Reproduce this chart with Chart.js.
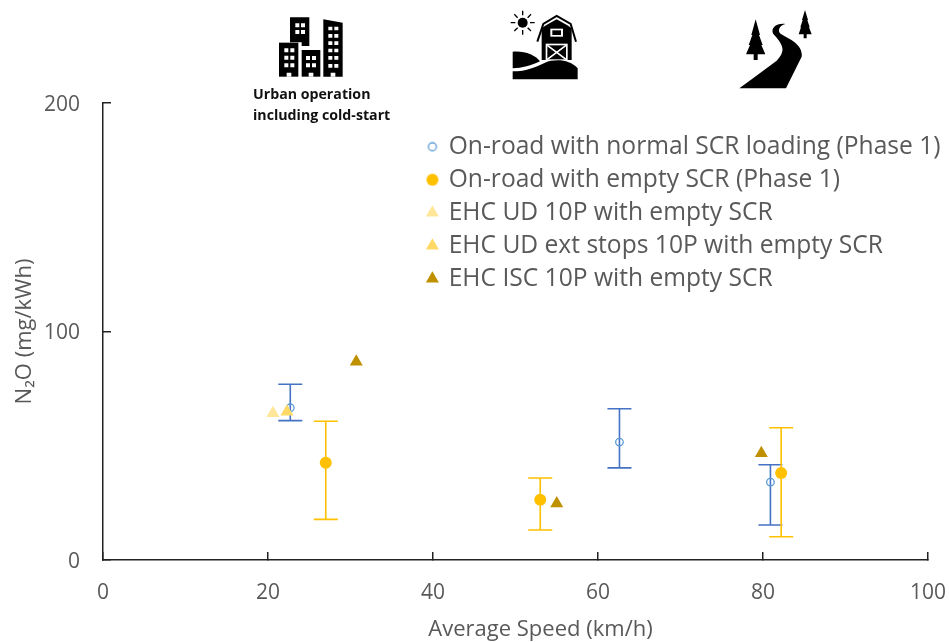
<!DOCTYPE html>
<html>
<head>
<meta charset="utf-8">
<title>N2O vs average speed</title>
<script src="https://cdn.jsdelivr.net/npm/chart.js@4"></script>
<style>
  html, body { margin: 0; padding: 0; background: #fff; }
  #wrap { position: relative; width: 949px; height: 642px; overflow: hidden; }
  #wrap canvas { position: absolute; left: 0; top: 0; }
  .icon { position: absolute; top: 0; height: 130px; }
  #urbanNote {
    position: absolute; left: 253px; top: 83px;
    font: bold 14.2px/21px "Open Sans", sans-serif; color: #111;
  }
</style>
</head>
<body>
<div id="wrap">
  <canvas id="chart" width="949" height="642"></canvas>

  <!-- icons use zoomed pixel coords (3x) in their viewBox -->
  <svg class="icon" style="left:240px;width:360px" viewBox="0 0 1080 390">
    <g fill="#000">
      <path d="M150 52H208V138L185 138V127H150Z"/>
      <rect x="117" y="128" width="58" height="102"/>
      <rect x="185" y="150" width="56" height="80"/>
      <path d="M250 58L308 68V230H250Z"/>
    </g>
    <g fill="#fff">
      <path d="M166 70h12v12h-12zM183 70h12v12h-12zM166 90h12v12h-12zM183 90h12v12h-12z"/>
      <path d="M133 145h12v12h-12zM151 145h12v12h-12zM133 167h12v12h-12zM151 167h12v12h-12zM133 190h12v12h-12zM151 190h12v12h-12zM140 218h14v12h-14z"/>
      <path d="M198 168h12v12h-12zM216 168h12v12h-12zM198 190h12v12h-12zM216 190h12v12h-12zM206 218h14v12h-14z"/>
      <path d="M265 80h12v11h-12zM283 80h12v11h-12zM265 102h12v11h-12zM283 102h12v11h-12zM265 124h12v11h-12zM283 124h12v11h-12zM265 146h12v11h-12zM283 146h12v11h-12zM265 168h12v11h-12zM283 168h12v11h-12zM265 192h12v11h-12zM283 192h12v11h-12zM272 218h14v12h-14z"/>
    </g>
    <!-- barn -->
    <circle cx="848" cy="68" r="15" fill="#000"/>
    <path d="M848 32V46M848 90V104M812 68H826M870 68H884M823 43L833 53M863 83L873 93M873 43L863 53M833 83L823 93" stroke="#000" stroke-width="4"/>
    <path d="M892 125L910 72L950 48L992 72L1008 125" fill="none" stroke="#000" stroke-width="6"/>
    <path d="M905 180V85L918 76L950 58L982 76L995 85V180Z" fill="#000"/>
    <rect x="931" y="86" width="38" height="24" fill="#fff"/>
    <rect x="937" y="91" width="26" height="14" fill="#000"/>
    <rect x="917" y="131" width="66" height="50" fill="#fff"/>
    <path d="M922 136H978V178H922Z" fill="#000"/>
    <path d="M922 136L978 178M978 136L922 178" stroke="#fff" stroke-width="5"/>
    <path d="M818 155C855 152 885 165 900 184C875 196 845 205 818 205Z" fill="#000"/>
    <path d="M818 238V214C860 214 890 200 915 188C945 176 990 178 1013 205V238Z" fill="#000"/>
  </svg>
  <svg class="icon" style="left:600px;width:349px" viewBox="0 0 1047 390">
    <path d="M418 265H558L605 170C610 130 560 115 540 100C532 90 540 76 556 72C530 68 510 85 520 102C545 130 562 150 530 182Z" fill="#000"/>
    <path d="M467 58L480 105H477L488 135H484L496 163H473V180H461V163H438L450 135H446L457 105H454Z" fill="#000"/>
    <path d="M615 30L624 60H622L629 82H627L635 103H620V115H611V103H596L603 82H601L608 60H606Z" fill="#000"/>
  </svg>
  <div id="urbanNote">Urban operation<br>including cold-start</div>
</div>

<script>
// values
const seriesNames = [
  'On-road with normal SCR loading (Phase 1)',
  'On-road with empty SCR (Phase 1)',
  'EHC UD 10P with empty SCR',
  'EHC UD ext stops 10P with empty SCR',
  'EHC ISC 10P with empty SCR'
];

const normalX = [22.7, 62.6, 80.9];
const normalY = [66.6, 51.6, 34.1];
const normalHigh = [76.9, 66.2, 41.7];
const normalLow = [61.0, 40.3, 15.3];

const emptyX = [27.0, 53.0, 82.2];
const emptyY = [42.6, 26.4, 38.1];
const emptyHigh = [60.7, 35.9, 57.9];
const emptyLow = [17.8, 13.1, 10.2];

const udX = [20.6];
const udY = [64.2];
const udStopsX = [22.3];
const udStopsY = [64.9];
const iscX = [30.7, 55.0, 79.8];
const iscY = [86.8, 24.7, 46.7];

const xTicks = [0, 20, 40, 60, 80, 100];
const yTicks = [0, 100, 200];

const toPoints = (xs, ys) => xs.map((x, i) => ({ x, y: ys[i] }));
const TEXT = '#595959';
const AXIS = '#222';
const FONT = '"Open Sans", sans-serif';

// error bars through the chart's own scales
const errorBars = {
  id: 'errorBars',
  beforeDatasetsDraw(chart) {
    const { ctx, scales: { x, y } } = chart;
    const draw = (xs, highs, lows, color) => {
      ctx.save();
      ctx.strokeStyle = color;
      ctx.lineWidth = 1.6;
      xs.forEach((v, i) => {
        const px = x.getPixelForValue(v);
        const top = y.getPixelForValue(highs[i]);
        const bot = y.getPixelForValue(lows[i]);
        ctx.beginPath();
        ctx.moveTo(px, top); ctx.lineTo(px, bot);
        ctx.moveTo(px - 12, top); ctx.lineTo(px + 12, top);
        ctx.moveTo(px - 12, bot); ctx.lineTo(px + 12, bot);
        ctx.stroke();
      });
      ctx.restore();
    };
    draw(normalX, normalHigh, normalLow, '#4472C4');
    draw(emptyX, emptyHigh, emptyLow, '#FFC000');
  }
};

// nudge one of a scale's draw steps by a few pixels
function nudge(chart, scale, method, dx, dy) {
  const orig = scale[method];
  scale[method] = function (...args) {
    chart.ctx.save();
    chart.ctx.translate(dx, dy);
    orig.apply(this, args);
    chart.ctx.restore();
  };
}

const placeText = {
  id: 'placeText',
  // legend sits over the plot and runs past its right edge
  afterLayout(chart) {
    const l = chart.legend;
    l.left = 420;
    l.top = 126;
    l.right = 949;
    l.bottom = 420;
  },
  // x title is not centred on the plot in the original
  beforeDraw(chart) {
    if (chart.$nudged) return;
    chart.$nudged = true;
    nudge(chart, chart.scales.x, 'drawTitle', 25, 1);
    nudge(chart, chart.scales.y, 'drawLabels', 0, 2);
  }
};

// legend circles differ in size from the triangles, so they get their own little canvas
function legendDot(radius, color, hollow) {
  const c = document.createElement('canvas');
  c.width = 16; c.height = 16;
  const g = c.getContext('2d');
  g.strokeStyle = color;
  g.fillStyle = color;
  g.lineWidth = 1.3;
  g.beginPath();
  g.arc(8, 8, radius, 0, Math.PI * 2);
  if (hollow) g.stroke(); else g.fill();
  return c;
}

new Chart(document.getElementById('chart'), {
  type: 'scatter',
  data: {
    datasets: [
      { label: seriesNames[0], order: 5, data: toPoints(normalX, normalY), pointStyle: 'circle', pointRadius: 3.8, borderWidth: 1.3, borderColor: '#5B9BD5', backgroundColor: 'rgba(255,255,255,0)' },
      { label: seriesNames[1], order: 4, data: toPoints(emptyX, emptyY), pointStyle: 'circle', pointRadius: 6, borderWidth: 0, borderColor: '#FFC000', backgroundColor: '#FFC000' },
      { label: seriesNames[2], order: 3, data: toPoints(udX, udY), pointStyle: 'triangle', pointRadius: 7.5, borderWidth: 0, borderColor: '#FFE699', backgroundColor: '#FFE699' },
      { label: seriesNames[3], order: 2, data: toPoints(udStopsX, udStopsY), pointStyle: 'triangle', pointRadius: 7.5, borderWidth: 0, borderColor: '#FFD966', backgroundColor: '#FFD966' },
      { label: seriesNames[4], order: 1, data: toPoints(iscX, iscY), pointStyle: 'triangle', pointRadius: 7.5, borderWidth: 0, borderColor: '#BF9000', backgroundColor: '#BF9000' }
    ]
  },
  options: {
    responsive: false,
    animation: false,
    layout: { padding: { left: 0, top: 103, right: 21, bottom: 0 } },
    plugins: {
      tooltip: { enabled: false },
      legend: {
        position: 'chartArea',
        align: 'start',
        labels: {
          usePointStyle: true,
          boxWidth: 8,
          boxHeight: 10.6,
          padding: 8.4,
          color: TEXT,
          font: { family: FONT, size: 24.6 },
          sort: (a, b) => a.datasetIndex - b.datasetIndex,
          generateLabels(chart) {
            const items = Chart.defaults.plugins.legend.labels.generateLabels(chart);
            items.find(it => it.datasetIndex === 0).pointStyle = legendDot(4, '#5B9BD5', true);
            items.find(it => it.datasetIndex === 1).pointStyle = legendDot(6, '#FFC000', false);
            return items;
          }
        }
      }
    },
    scales: {
      x: {
        type: 'linear',
        min: 0,
        max: 100,
        afterBuildTicks(scale) { scale.ticks = xTicks.map(value => ({ value })); },
        afterFit(scale) {
          scale.height = 82;
          // tick padding would otherwise eat into the plot width
          scale.paddingLeft = 0;
          scale.paddingRight = 0;
        },
        border: { display: true, color: AXIS, width: 1.5 },
        grid: { drawOnChartArea: false, drawTicks: true, tickLength: -8, color: AXIS, lineWidth: 1.5 },
        ticks: { color: TEXT, font: { family: FONT, size: 21 }, padding: 28, maxRotation: 0 },
        title: { display: true, text: 'Average Speed (km/h)', color: TEXT, font: { family: FONT, size: 22 }, padding: { top: 4, bottom: 0 } }
      },
      y: {
        type: 'linear',
        min: 0,
        max: 200,
        afterBuildTicks(scale) { scale.ticks = yTicks.map(value => ({ value })); },
        afterFit(scale) { scale.width = 103; },
        border: { display: true, color: AXIS, width: 1.5 },
        grid: { drawOnChartArea: false, drawTicks: true, tickLength: -8, color: AXIS, lineWidth: 1.5 },
        ticks: { color: TEXT, font: { family: FONT, size: 21 }, padding: 31 },
        title: { display: true, text: 'N₂O (mg/kWh)', color: TEXT, font: { family: FONT, size: 22 }, padding: { top: 12, bottom: 0 } }
      }
    }
  },
  plugins: [errorBars, placeText]
});
</script>
</body>
</html>
